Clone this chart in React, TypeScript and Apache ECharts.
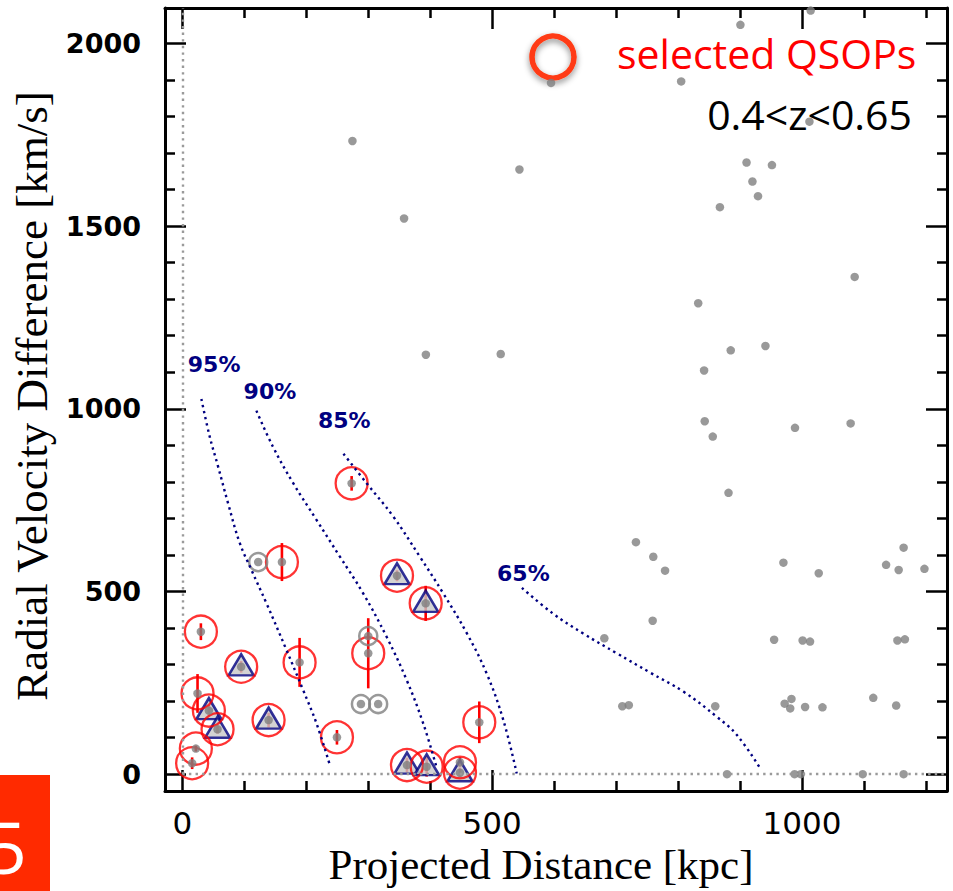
import React, { useEffect, useRef } from "react";
import * as echarts from "echarts";

// ---- axis ranges & ticks ----
const X_MIN = -28;
const X_MAX = 1234;
const Y_MIN = -46;
const Y_MAX = 2097;
const xTicksMajor = [0, 500, 1000];
const xTicksMinor = [100, 200, 300, 400, 600, 700, 800, 900, 1100, 1200];
const yTicksMajor = [0, 500, 1000, 1500, 2000];
const yTicksMinor = [100, 200, 300, 400, 600, 700, 800, 900, 1100, 1200, 1300, 1400, 1600, 1700, 1800, 1900];

// ---- data: [projected distance kpc, velocity difference km/s] ----
const fieldPairs: number[][] = [
  [1014, 2090], [900.6, 2051], [595, 1892], [805, 1896], [1012, 1786],
  [274.5, 1733], [544, 1655], [357.8, 1521], [393, 1148], [513.8, 1150],
  [910.5, 1674], [951.5, 1667], [920, 1622], [929, 1582], [867.5, 1552],
  [1085, 1361], [832.5, 1289], [885, 1160], [941, 1172], [842, 1105],
  [843, 966], [856, 924], [988.7, 948], [1078.5, 960], [881.4, 770],
  [732, 635], [760, 595], [779, 557], [970, 579], [1027, 550],
  [1135.7, 573], [1164, 620], [1156, 559], [1197.6, 562], [759, 420],
  [681, 372], [955, 368], [1001, 366], [1013, 363], [1154, 366],
  [1166, 369], [710, 186], [720.5, 189], [860, 186], [972, 193],
  [983, 206], [981, 180], [1005, 184], [1033, 183], [1115, 209],
  [1152, 188], [879, 0], [988, 0], [998, 0], [1098, 0], [1164, 0],
];

// selected QSOPs: [x, y, velocity error]
const selectedPairs: number[][] = [
  [273.2, 796, 20], [160.7, 580.6, 52], [346.4, 543.2, 15], [392.7, 467.6, 48],
  [29.9, 390, 23], [94.9, 294, 16], [189.2, 306, 67], [300, 331, 96],
  [24.5, 221, 53], [42.8, 174, 15], [56.8, 123, 12], [139.2, 148, 20],
  [249.5, 101, 20], [21.8, 70, 8], [15.8, 30, 16], [479.2, 142, 57],
  [362.5, 25, 20], [394.3, 20.5, 27], [448, 32.6, 14], [448, 4, 14],
];

const trianglePairs: number[][] = [
  [346.4, 543.2], [392.7, 467.6], [94.9, 294], [42.8, 174], [56.8, 123],
  [139.2, 148], [362.5, 25], [394.3, 20.5], [448, 4],
];

const ringPairs: number[][] = [
  [122.4, 580.6], [300, 378], [288.2, 192], [316, 192],
];

// probability contours
const contour95: number[][] = [
  [30.7, 1027], [44, 925], [57.5, 843], [73.7, 742], [92.6, 633], [111.5, 559],
  [135.7, 468], [168, 340], [195, 230], [216.5, 139], [238, 25],
];
const contour90: number[][] = [
  [119.5, 995], [146, 897], [178.7, 797], [216.5, 696], [254, 596], [291.8, 495],
  [329.6, 376], [361.9, 258], [388.7, 139], [410, 20],
];
const contour85: number[][] = [
  [260, 877], [297, 797], [340, 706], [383, 596], [421, 495], [459, 386],
  [491, 276], [518, 148], [539.6, 2],
];
const contour65: number[][] = [
  [548, 510], [597.8, 440], [647, 385], [701, 331], [755, 278], [808.6, 226],
  [862.6, 157], [895, 107], [932.5, 16],
];
const contourLabelNames = ["95%", "90%", "85%", "65%"];
const contourLabelPos: number[][] = [[51.3, 1120], [141.3, 1047], [261.3, 969], [550.3, 550]];

const NAVY = "#000080";
const GRAY = "#808080";

export default function App() {
  const ref = useRef<HTMLDivElement>(null);
  useEffect(() => {
    if (!ref.current) return;
    const chart = echarts.init(ref.current, null, { renderer: "svg" });

    const baseX = (extra: any) => ({
      type: "value",
      min: X_MIN,
      max: X_MAX,
      splitLine: { show: false },
      axisLine: { show: false, onZero: false, lineStyle: { color: "#000", width: 3 } },
      ...extra,
    });
    const baseY = (extra: any) => ({
      type: "value",
      min: Y_MIN,
      max: Y_MAX,
      splitLine: { show: false },
      axisLine: { show: false, onZero: false, lineStyle: { color: "#000", width: 3 } },
      ...extra,
    });
    const majorTick = (vals: number[]) => ({
      show: true, inside: true, length: 21, customValues: vals,
      lineStyle: { color: "#000", width: 2.5 },
    });
    const minorTick = (vals: number[]) => ({
      show: true, inside: true, length: 10, customValues: vals,
      lineStyle: { color: "#000", width: 2.5 },
    });
    const plain = (v: number) => String(v);

    const contourSeries = [contour95, contour90, contour85, contour65].map((c) => ({
      type: "line",
      data: c,
      smooth: 0.4,
      symbol: "none",
      silent: true,
      lineStyle: { color: NAVY, width: 2.4, type: [2.4, 3.8] },
    }));

    const allDots = [
      ...fieldPairs,
      ...selectedPairs.map((p) => [p[0], p[1]]),
      ...ringPairs,
    ];

    chart.setOption({
      animation: false,
      grid: { left: 165, right: 6, top: 8, bottom: 100, containLabel: false, outerBoundsMode: "none" },
      xAxis: [
        baseX({
          position: "bottom",
          axisLine: { show: true, onZero: false, lineStyle: { color: "#000", width: 3 } },
          axisTick: majorTick(xTicksMajor),
          axisLabel: {
            customValues: xTicksMajor, margin: 16, color: "#000",
            fontFamily: "DejaVu Sans", fontSize: 31, formatter: plain,
          },
          name: "Projected Distance [kpc]",
          nameLocation: "middle",
          nameGap: 49,
          nameTextStyle: { fontFamily: "Liberation Serif", fontSize: 43, color: "#000", padding: [0, 30, 0, 0] },
        }),
        baseX({ position: "bottom", axisTick: minorTick(xTicksMinor), axisLabel: { show: false } }),
        baseX({
          position: "top",
          axisLine: { show: true, onZero: false, lineStyle: { color: "#000", width: 3 } },
          axisTick: majorTick(xTicksMajor), axisLabel: { show: false },
        }),
        baseX({ position: "top", axisTick: minorTick(xTicksMinor), axisLabel: { show: false } }),
      ],
      yAxis: [
        baseY({
          position: "left",
          axisLine: { show: true, onZero: false, lineStyle: { color: "#000", width: 3 } },
          axisTick: majorTick(yTicksMajor),
          axisLabel: {
            customValues: yTicksMajor, margin: 24, color: "#000",
            fontFamily: "DejaVu Sans", fontWeight: "bold", fontSize: 27, formatter: plain,
          },
          name: "Radial Velocity Difference [km/s]",
          nameLocation: "middle",
          nameGap: 105,
          nameTextStyle: { fontFamily: "Liberation Serif", fontSize: 45, color: "#000", padding: [0, 0, 0, 7] },
        }),
        baseY({ position: "left", axisTick: minorTick(yTicksMinor), axisLabel: { show: false } }),
        baseY({
          position: "right",
          axisLine: { show: true, onZero: false, lineStyle: { color: "#000", width: 3 } },
          axisTick: majorTick(yTicksMajor), axisLabel: { show: false },
        }),
        baseY({ position: "right", axisTick: minorTick(yTicksMinor), axisLabel: { show: false } }),
      ],
      series: [
        {
          type: "line",
          data: [],
          silent: true,
          markLine: {
            silent: true,
            symbol: "none",
            label: { show: false },
            lineStyle: { color: "#9a9a9a", width: 2.4, type: [2.4, 4.2] },
            data: [
              [{ coord: [0, 0] }, { coord: [0, Y_MAX] }],
              [{ coord: [0, 0] }, { coord: [X_MAX, 0] }],
            ],
          },
        },
        ...contourSeries,
        {
          type: "scatter",
          data: trianglePairs,
          symbol: "triangle",
          symbolSize: [25, 21],
          symbolOffset: [0, -2],
          silent: true,
          itemStyle: { color: "#c8c8c8", borderColor: NAVY, borderWidth: 2.5 },
        },
        {
          type: "scatter",
          data: selectedPairs.map((p) => [p[0], p[1]]),
          symbol: "circle",
          symbolSize: 32,
          silent: true,
          itemStyle: { color: "rgba(0,0,0,0)", borderColor: "#ff0000", borderWidth: 2.3 },
        },
        {
          type: "scatter",
          data: ringPairs,
          symbol: "circle",
          symbolSize: 18,
          silent: true,
          itemStyle: { color: "rgba(0,0,0,0)", borderColor: GRAY, borderWidth: 2.5 },
        },
        {
          type: "custom",
          data: selectedPairs,
          silent: true,
          encode: { x: 0, y: 1 },
          renderItem: (params: any, api: any) => {
            const x = api.value(0);
            const y = api.value(1);
            const e = api.value(2);
            const p1 = api.coord([x, y - e]);
            const p2 = api.coord([x, y + e]);
            return {
              type: "line",
              shape: { x1: p1[0], y1: p1[1], x2: p2[0], y2: p2[1] },
              style: { stroke: "#ff0000", lineWidth: 2.6 },
            };
          },
        },
        {
          type: "scatter",
          data: allDots,
          symbol: "circle",
          symbolSize: 8.5,
          silent: true,
          itemStyle: { color: GRAY },
        },
        {
          type: "scatter",
          data: contourLabelPos.map((p, i) => ({ name: contourLabelNames[i], value: p })),
          symbolSize: 0.1,
          silent: true,
          itemStyle: { color: "rgba(0,0,0,0)" },
          label: {
            show: true,
            position: "inside",
            formatter: (p: any) => p.name,
            color: NAVY,
            opacity: 1,
            fontFamily: "DejaVu Sans",
            fontWeight: 900,
            fontSize: 22,
          },
        },
      ],
      graphic: [
        {
          type: "rect",
          shape: { x: 0, y: 775, width: 50, height: 116 },
          style: { fill: "#ff2a00" },
          silent: true,
        },
        {
          type: "text",
          x: 27,
          y: 846,
          style: {
            text: "5", fill: "#ffffff", fontSize: 72, fontFamily: "Open Sans",
            align: "right", textAlign: "right", verticalAlign: "middle", textVerticalAlign: "middle",
          },
          silent: true,
        },
        {
          type: "circle",
          shape: { cx: 553, cy: 57, r: 21 },
          style: {
            fill: "none", stroke: "#ff3a12", lineWidth: 5.5,
            shadowBlur: 6, shadowColor: "rgba(0,0,0,0.45)", shadowOffsetY: 3,
          },
          silent: true,
        },
        {
          type: "text",
          x: 617,
          y: 53,
          style: {
            text: "selected QSOPs", fill: "#ff0000", fontSize: 41, fontFamily: "Open Sans",
            align: "left", textAlign: "left", verticalAlign: "middle", textVerticalAlign: "middle",
          },
          silent: true,
        },
        {
          type: "text",
          x: 912,
          y: 114,
          style: {
            text: "0.4<z<0.65", fill: "#000000", fontSize: 41, fontFamily: "Open Sans",
            align: "right", textAlign: "right", verticalAlign: "middle", textVerticalAlign: "middle",
          },
          silent: true,
        },
      ],
    });
    return () => chart.dispose();
  }, []);
  return (
    <div
      ref={ref}
      style={{ position: "absolute", left: 0, top: 0, width: 953, height: 891, background: "#fff" }}
    />
  );
}
